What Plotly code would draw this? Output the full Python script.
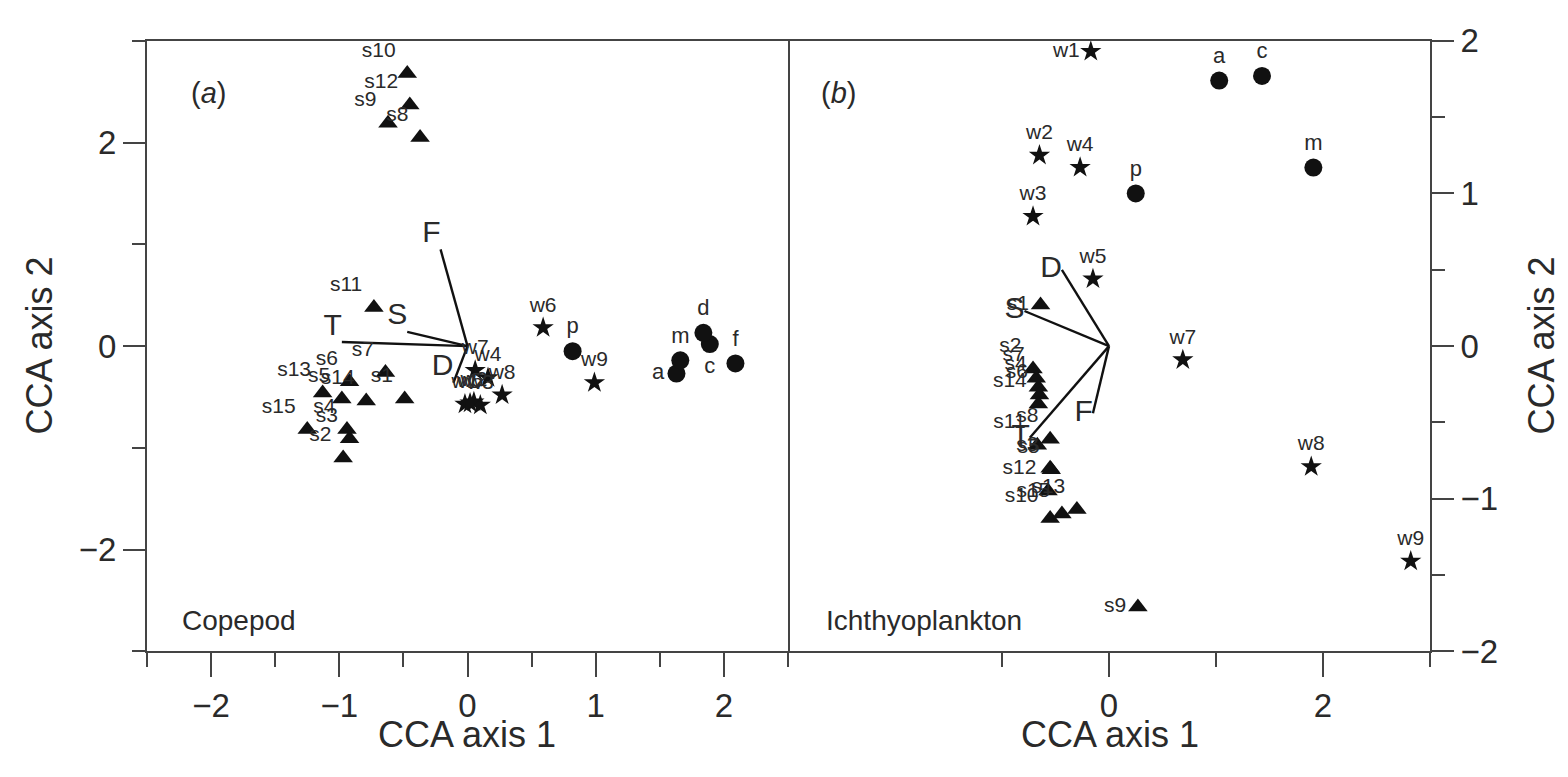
import plotly.graph_objects as go

# ---------------- Data: panel (a) Copepod ----------------
a_species = ["s1", "s2", "s3", "s4", "s5", "s6", "s7", "s8", "s9", "s10", "s11", "s12", "s13", "s14", "s15"]
a_species_x = [-0.49, -0.97, -0.92, -0.94, -0.98, -0.92, -0.64, -0.37, -0.62, -0.47, -0.73, -0.45, -1.13, -0.79, -1.25]
a_species_y = [-0.52, -1.10, -0.91, -0.82, -0.52, -0.35, -0.26, 2.05, 2.19, 2.68, 0.38, 2.37, -0.46, -0.54, -0.82]

a_stations = ["w1", "w2", "w3", "w4", "w5", "w6", "w7", "w8", "w9"]
a_stations_x = [-0.02, 0.05, 0.10, 0.16, 0.02, 0.59, 0.06, 0.27, 0.99]
a_stations_y = [-0.57, -0.55, -0.58, -0.31, -0.56, 0.18, -0.24, -0.48, -0.36]

a_sites = ["a", "c", "d", "f", "m", "p"]
a_sites_x = [1.63, 1.89, 1.84, 2.09, 1.66, 0.82]
a_sites_y = [-0.27, 0.02, 0.13, -0.17, -0.14, -0.05]

a_env = ["F", "S", "T", "D"]
a_env_x = [-0.21, -0.47, -0.98, -0.11]
a_env_y = [0.95, 0.14, 0.04, -0.36]

# ---------------- Data: panel (b) Ichthyoplankton ----------------
b_species = ["s1", "s2", "s3", "s4", "s5", "s6", "s7", "s8", "s9", "s10", "s11", "s12", "s13", "s14", "s15"]
b_species_x = [-0.64, -0.71, -0.55, -0.66, -0.54, -0.65, -0.68, -0.55, 0.27, -0.55, -0.67, -0.57, -0.30, -0.66, -0.44]
b_species_y = [0.27, -0.15, -0.80, -0.27, -0.81, -0.32, -0.21, -0.61, -1.71, -1.13, -0.65, -0.95, -1.07, -0.38, -1.10]

b_stations = ["w1", "w2", "w3", "w4", "w5", "w7", "w8", "w9"]
b_stations_x = [-0.17, -0.65, -0.71, -0.27, -0.15, 0.69, 1.89, 2.82]
b_stations_y = [1.93, 1.25, 0.85, 1.17, 0.44, -0.09, -0.79, -1.41]

b_sites = ["a", "c", "m", "p"]
b_sites_x = [1.03, 1.43, 1.91, 0.25]
b_sites_y = [1.74, 1.77, 1.17, 1.00]

b_env = ["D", "S", "T", "F"]
b_env_x = [-0.44, -0.79, -0.74, -0.15]
b_env_y = [0.50, 0.23, -0.60, -0.44]

# ---------------- Styling ----------------
W, H = 1568, 777
FONT = "Liberation Sans, Arial, Helvetica, sans-serif"
TXT = "#2a2a2a"
AX = "#444444"
MK = "#111111"
LBL = 21

a_site_pos = {"a": "middle left", "c": "bottom center"}
b_station_pos = {"w1": "middle left"}
b_species_pos = {"s9": "middle left", "s1": "middle left"}

fig = go.Figure()


def add_panel(xa, ya, sp, spx, spy, st, stx, sty, si, six, siy, env, ex, ey,
              sp_pos, st_pos, si_pos, env_pos):
    # environmental vectors
    lx, ly = [], []
    for x, y in zip(ex, ey):
        lx += [0, x, None]
        ly += [0, y, None]
    fig.add_trace(go.Scatter(x=lx, y=ly, mode="lines", xaxis=xa, yaxis=ya,
                             line=dict(color=MK, width=2.4), hoverinfo="skip", showlegend=False))
    fig.add_trace(go.Scatter(x=ex, y=ey, mode="text", text=env, xaxis=xa, yaxis=ya,
                             textposition=env_pos, textfont=dict(family=FONT, size=30, color=TXT),
                             showlegend=False))
    # species (triangles)
    fig.add_trace(go.Scatter(x=spx, y=spy, mode="markers+text", text=sp, xaxis=xa, yaxis=ya,
                             textposition=[sp_pos.get(n, "top left") for n in sp],
                             marker=dict(symbol="triangle-up", size=17, color=MK),
                             textfont=dict(family=FONT, size=LBL, color=TXT), showlegend=False))
    # stations (stars)
    fig.add_trace(go.Scatter(x=stx, y=sty, mode="markers+text", text=st, xaxis=xa, yaxis=ya,
                             textposition=[st_pos.get(n, "top center") for n in st],
                             marker=dict(symbol="star", size=16, color=MK),
                             textfont=dict(family=FONT, size=LBL, color=TXT), showlegend=False))
    # sites (circles)
    fig.add_trace(go.Scatter(x=six, y=siy, mode="markers+text", text=si, xaxis=xa, yaxis=ya,
                             textposition=[si_pos.get(n, "top center") for n in si],
                             marker=dict(symbol="circle", size=18, color=MK),
                             textfont=dict(family=FONT, size=LBL + 1, color=TXT), showlegend=False))


add_panel("x", "y", a_species, a_species_x, a_species_y, a_stations, a_stations_x, a_stations_y,
          a_sites, a_sites_x, a_sites_y, a_env, a_env_x, a_env_y,
          {}, {}, a_site_pos, "top left")
add_panel("x2", "y2", b_species, b_species_x, b_species_y, b_stations, b_stations_x, b_stations_y,
          b_sites, b_sites_x, b_sites_y, b_env, b_env_x, b_env_y,
          b_species_pos, b_station_pos, {}, "middle left")

x0, x1, x2 = 147 / W, 788 / W, 1430 / W
y0, y1 = 1 - 665 / H, 1 - 24 / H

tickfont = dict(family=FONT, size=33, color=TXT)
common = dict(showgrid=False, zeroline=False, showline=True, linecolor=AX, linewidth=2,
              ticks="outside", tickcolor=AX, tickwidth=1.5, tickfont=tickfont)


def minus(v):
    return ("\u2212" + str(abs(v))) if v < 0 else str(v)


fig.update_layout(
    width=W, height=H, margin=dict(l=0, r=0, t=0, b=0),
    plot_bgcolor="white", paper_bgcolor="white",
    xaxis=dict(domain=[x0, x1], range=[-2.5, 2.5], anchor="y", mirror=True,
               tickvals=[-2, -1, 0, 1, 2], ticktext=[minus(v) for v in [-2, -1, 0, 1, 2]], ticklen=24,
               minor=dict(tickvals=[-2.5, -1.5, -0.5, 0.5, 1.5, 2.5], ticklen=14, ticks="outside",
                          tickcolor=AX, tickwidth=1.5), **common),
    yaxis=dict(domain=[y0, y1], range=[-3, 3], anchor="x", mirror=True,
               tickvals=[-2, 0, 2], ticktext=[minus(v) for v in [-2, 0, 2]], ticklen=22,
               minor=dict(tickvals=[-3, -1, 1, 3], ticklen=13, ticks="outside",
                          tickcolor=AX, tickwidth=1.5), **common),
    xaxis2=dict(domain=[x1, x2], range=[-3, 3], anchor="y2", mirror=True,
                tickvals=[0, 2], ticktext=["0", "2"], ticklen=24,
                minor=dict(tickvals=[-1, 1, 3], ticklen=14, ticks="outside",
                           tickcolor=AX, tickwidth=1.5), **common),
    yaxis2=dict(domain=[y0, y1], range=[-2, 2], anchor="x2", side="right", mirror=False,
                tickvals=[-2, -1, 0, 1, 2], ticktext=[minus(v) for v in [-2, -1, 0, 1, 2]], ticklen=22,
                minor=dict(tickvals=[-1.5, -0.5, 0.5, 1.5], ticklen=13, ticks="outside",
                           tickcolor=AX, tickwidth=1.5), **common),
)

ann_font = dict(family=FONT, size=36, color=TXT)
fig.add_annotation(text="CCA axis 1", x=467 / W, y=1 - 752 / H, xref="paper", yref="paper",
                   showarrow=False, font=ann_font, xanchor="center", yanchor="middle")
fig.add_annotation(text="CCA axis 1", x=1110 / W, y=1 - 752 / H, xref="paper", yref="paper",
                   showarrow=False, font=ann_font, xanchor="center", yanchor="middle")
fig.add_annotation(text="CCA axis 2", x=40 / W, y=1 - 344 / H, xref="paper", yref="paper",
                   showarrow=False, font=ann_font, textangle=-90, xanchor="center", yanchor="middle")
fig.add_annotation(text="CCA axis 2", x=1542 / W, y=1 - 344 / H, xref="paper", yref="paper",
                   showarrow=False, font=ann_font, textangle=-90, xanchor="center", yanchor="middle")

pfont = dict(family=FONT, size=29, color=TXT)
fig.add_annotation(text="(<i>a</i>)", x=208 / W, y=1 - 79 / H, xref="paper", yref="paper",
                   showarrow=False, font=pfont, xanchor="center", yanchor="middle")
fig.add_annotation(text="(<i>b</i>)", x=838 / W, y=1 - 79 / H, xref="paper", yref="paper",
                   showarrow=False, font=pfont, xanchor="center", yanchor="middle")
nfont = dict(family=FONT, size=28, color=TXT)
fig.add_annotation(text="Copepod", x=180 / W, y=1 - 633 / H, xref="paper", yref="paper",
                   showarrow=False, font=nfont, xanchor="left", yanchor="middle")
fig.add_annotation(text="Ichthyoplankton", x=824 / W, y=1 - 633 / H, xref="paper", yref="paper",
                   showarrow=False, font=nfont, xanchor="left", yanchor="middle")

fig.write_html("out.html")
